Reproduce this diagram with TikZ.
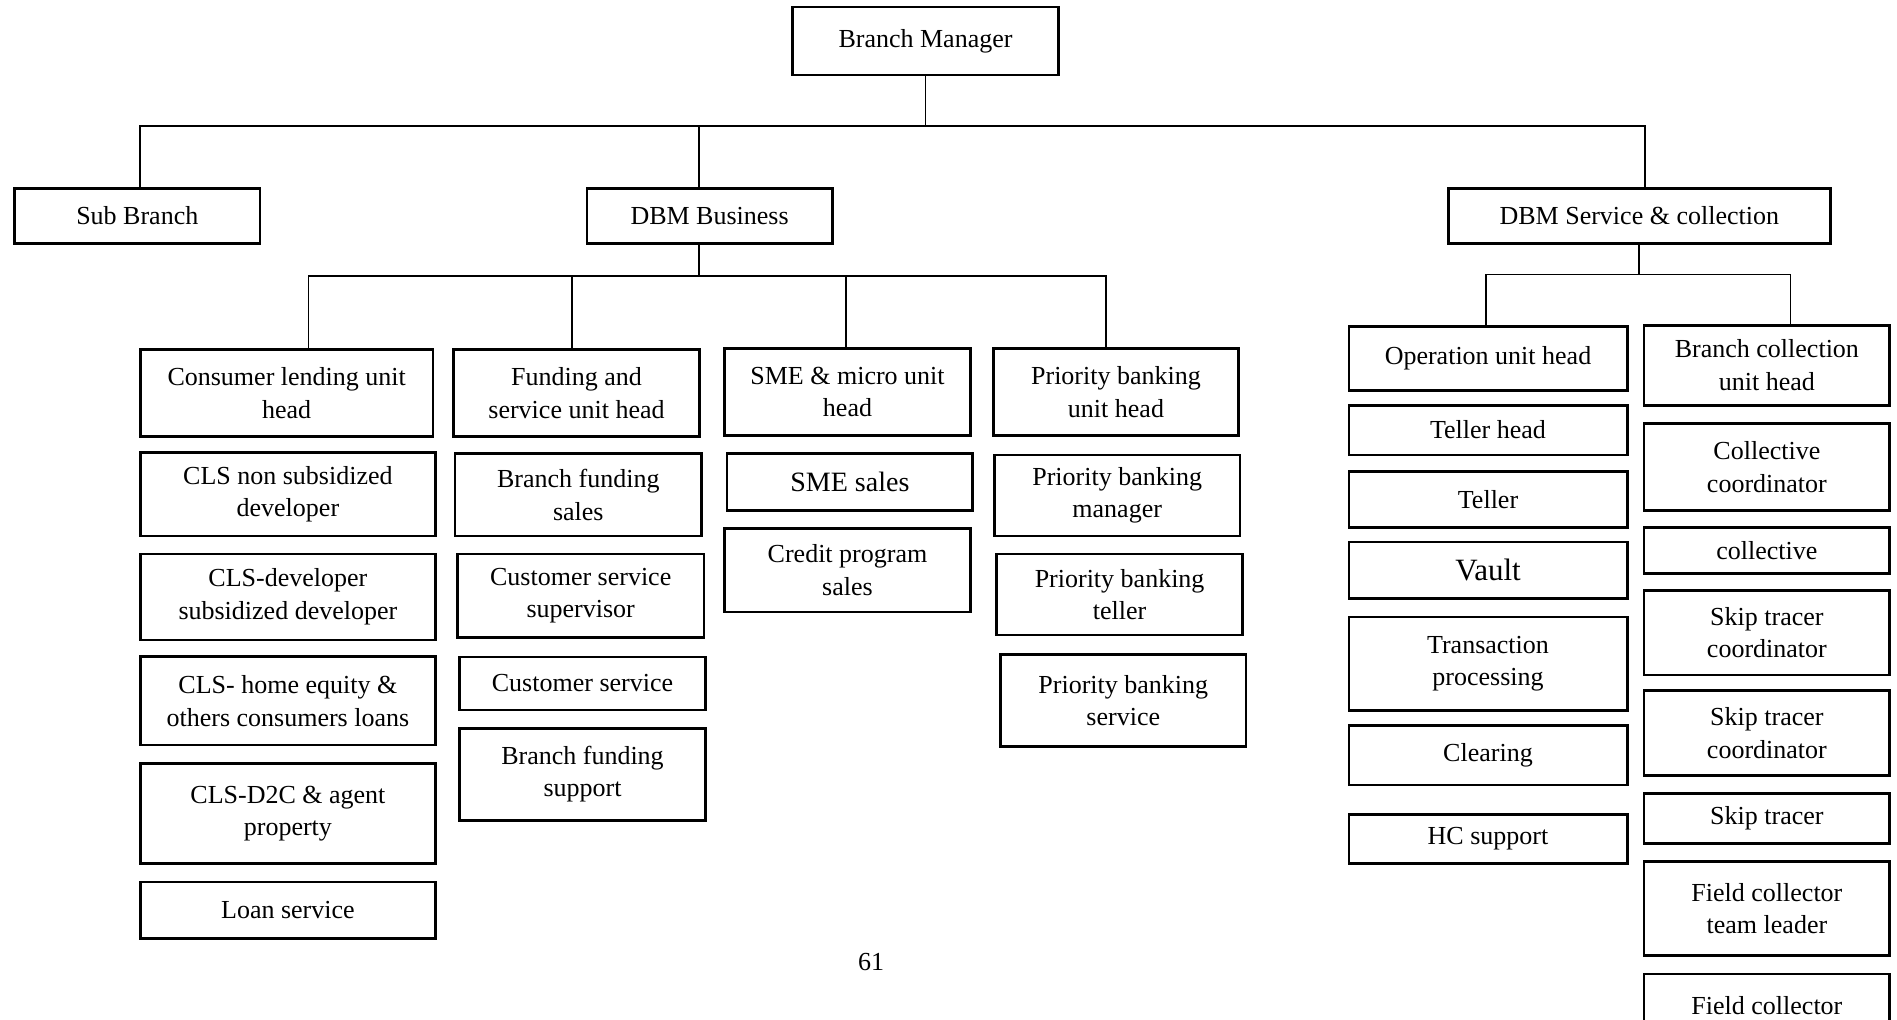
\documentclass[tikz,border=0pt]{standalone}
\usepackage{fontspec}
\setmainfont{Liberation Serif}
\begin{document}
\begin{tikzpicture}[x=0.5pt,y=-0.5pt,
  box/.style={draw,line width=1.35pt,align=center,inner sep=0pt,font=\fontsize{13}{16.3}\selectfont},
  wh/.style 2 args={minimum width=#1*0.5pt,minimum height=#2*0.5pt},
  conn/.style={line width=0.9pt}]
\useasboundingbox (0,0) rectangle (1897,1020);
% top level
\node[box,wh={266}{68}] (bm) at (925.5,41.1) {Branch Manager};
\node[box,wh={245.6}{54.5}] (subbranch) at (137.3,216) {Sub Branch};
\node[box,wh={245.5}{54.5}] (dbmb) at (709.6,216) {DBM Business};
\node[box,wh={382.3}{54.5}] (dbmsc) at (1639.3,216) {DBM Service \& collection};
% consumer lending
\node[box,wh={292.8}{87.1}] (clhead) at (286.7,393.2) {Consumer lending unit\\head};
\node[box,wh={295.2}{83.5}] (clsnon) at (287.9,494.2) {CLS non subsidized\\developer};
\node[box,wh={295.2}{85.9}] (clsdev) at (287.9,597) {CLS-developer\\subsidized developer};
\node[box,wh={295.2}{88.3}] (clshome) at (287.9,701) {CLS- home equity \&\\others consumers loans};
\node[box,wh={295.2}{100.4}] (clsdtc) at (287.9,813.6) {CLS-D2C \& agent\\property};
\node[box,wh={295.2}{56.9}] (loan) at (287.9,910.4) {Loan service};
% funding and service
\node[box,wh={245.6}{87.1}] (fshead) at (576.5,393.2) {Funding and\\service unit head};
\node[box,wh={246.8}{82.3}] (bfsales) at (578.3,494.8) {Branch funding\\sales};
\node[box,wh={246.8}{83.5}] (cssup) at (580.7,595.8) {Customer service\\supervisor};
\node[box,wh={245.6}{53.2}] (cs) at (582.5,683.5) {Customer service};
\node[box,wh={245.6}{91.9}] (bfsupport) at (582.5,774.3) {Branch funding\\support};
% sme
\node[box,wh={245.6}{87.1}] (smehead) at (847.5,392) {SME \& micro unit\\head};
\node[box,wh={245.6}{56.9},font=\fontsize{14}{16.3}\selectfont] (smesales) at (849.9,482.1) {SME sales};
\node[box,wh={245.6}{83.5}] (credit) at (847.5,570.4) {Credit program\\sales};
% priority banking
\node[box,wh={245.6}{87.1}] (pbhead) at (1116,392) {Priority banking\\unit head};
\node[box,wh={245.6}{81}] (pbmanager) at (1117.2,495.4) {Priority banking\\manager};
\node[box,wh={245.6}{81}] (pbteller) at (1119.6,594.6) {Priority banking\\teller};
\node[box,wh={245.6}{91.9}] (pbservice) at (1123.3,700.5) {Priority banking\\service};
% operation
\node[box,wh={278.3}{64.1}] (ophead) at (1488,358.7) {Operation unit head};
\node[box,wh={278.3}{49.6}] (tellerhead) at (1488,430.1) {Teller head};
\node[box,wh={278.3}{55.7}] (teller) at (1488,499.7) {Teller};
\node[box,wh={278.3}{56.9},font=\fontsize{15.5}{18}\selectfont] (vault) at (1488,570.4) {Vault};
\node[box,wh={278.3}{93.2}] (transaction) at (1488,663.6) {Transaction\\processing};
\node[box,wh={278.3}{59.3}] (clearing) at (1488,755.5) {Clearing};
\node[box,wh={278.3}{49.6}] (hcsupport) at (1488,839) {HC support};
% collection
\node[box,wh={245.6}{79.9}] (bchead) at (1766.9,365.4) {Branch collection\\unit head};
\node[box,wh={245.6}{87.1}] (collcoord) at (1766.9,467) {Collective\\coordinator};
\node[box,wh={245.6}{46}] (collective) at (1766.9,550.5) {collective};
\node[box,wh={245.6}{84.7}] (skipcoord) at (1766.9,632.7) {Skip tracer\\coordinator};
\node[box,wh={245.6}{84.7}] (skipcoordb) at (1766.9,733.1) {Skip tracer\\coordinator};
\node[box,wh={245.6}{49.6}] (skiptracer) at (1766.9,818.4) {Skip tracer};
\node[box,wh={245.6}{94.4}] (fcleader) at (1766.9,908.5) {Field collector\\team leader};
\node[box,wh={245.6}{95}] (fcollector) at (1766.9,1021.4) {Field collector\\\mbox{}};
\node[font=\fontsize{13}{16}\selectfont] (pagenum) at (871,962) {61};
% connectors
\coordinate (topL) at (140.3,125.8);
\coordinate (topM) at (699.3,125.8);
\coordinate (topR) at (1645.3,125.8);
\draw[conn] (bm.south) -- (bm.south |- topL);
\draw[conn] (topL |- subbranch.north) -- (topL) -- (topR) -- (topR |- dbmsc.north);
\draw[conn] (topM) -- (topM |- dbmb.north);
\coordinate (busA) at (308.5,275.8);
\coordinate (busB) at (572.2,275.8);
\coordinate (busC) at (845.6,275.8);
\coordinate (busD) at (1105.8,275.8);
\draw[conn] (topM |- dbmb.south) -- (topM |- busA);
\draw[conn] (busA |- clhead.north) -- (busA) -- (busD) -- (busD |- pbhead.north);
\draw[conn] (busB) -- (busB |- fshead.north);
\draw[conn] (busC) -- (busC |- smehead.north);
\coordinate (busE) at (1485.6,274.6);
\coordinate (busF) at (1790.5,274.6);
\draw[conn] (dbmsc.south) -- (dbmsc.south |- busE);
\draw[conn] (busE |- ophead.north) -- (busE) -- (busF) -- (busF |- bchead.north);
\end{tikzpicture}
\end{document}
